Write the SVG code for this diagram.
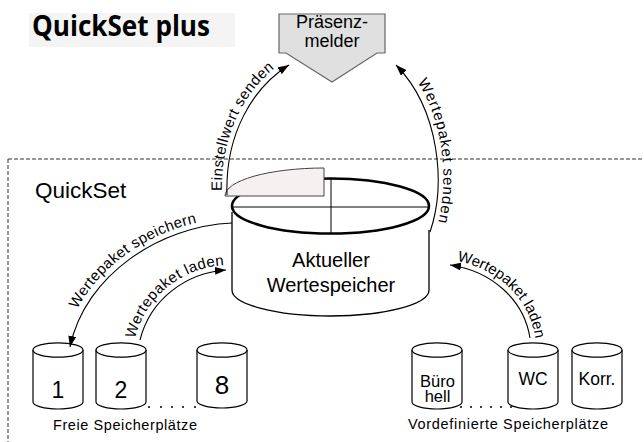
<svg xmlns="http://www.w3.org/2000/svg" width="644" height="442" viewBox="0 0 644 442">
<style>
.t{font-family:"Liberation Sans",Arial,sans-serif;fill:#000}
.ln{fill:none;stroke:#000;stroke-width:1.1}
.cyl{fill:#fff;stroke:#000;stroke-width:1.2}
.dash{fill:none;stroke:#333;stroke-width:1;stroke-dasharray:4 2}
.lbl{font-family:"Liberation Sans",Arial,sans-serif;font-size:15px;fill:#000}
</style>
<defs>
<marker id="ah" markerUnits="userSpaceOnUse" markerWidth="12" markerHeight="8" refX="11" refY="4" orient="auto">
<path d="M0,0 L11,4 L0,8 z" fill="#000"/>
</marker>
<path id="pA" d="M222,193 C220,133 248,84 284,62"/>
<path id="pB" d="M401,62 C446,106 451,185 435,234"/>
<path id="pC" d="M65,343 C80,271 157,221 231,218"/>
<path id="pD" d="M135,339 C145,296 183,267 226,265"/>
<path id="pE" d="M451,260 C495,266 529,297 535,337"/>
</defs>

<rect x="29" y="13" width="206" height="34" fill="#f4f4f4"/>
<text x="32" y="36" font-family="'Open Sans','DejaVu Sans',sans-serif" font-weight="bold" font-size="28" textLength="178" lengthAdjust="spacingAndGlyphs">QuickSet plus</text>

<g id="frame">
<path class="dash" d="M8,159 H644 M8,159 V442"/>
<text class="t" x="35" y="198" font-size="22.5">QuickSet</text>
</g>

<g id="praesenzmelder">
<path d="M279,14 H385 V53 H377 L332,82 L286,53 H279 Z" fill="#e0e0e0" stroke="#666" stroke-width="1.2"/>
<text class="t" x="332" y="28" font-size="18" text-anchor="middle">Präsenz-</text>
<text class="t" x="332" y="47" font-size="18" text-anchor="middle">melder</text>
</g>

<g id="aktueller-wertespeicher">
<path d="M232,207 V290 A98.5 26 0 0 0 429,290 V207" fill="#fff" stroke="none"/>
<path d="M232,212 V290 A98.5 26 0 0 0 429,290 V230" fill="none" stroke="#000" stroke-width="1.3"/>
<ellipse cx="330.5" cy="206" rx="98.5" ry="27.5" fill="#fff" stroke="#000" stroke-width="2.6"/>
<path d="M232,207 H429 M331,178 V233" stroke="#000" stroke-width="1" fill="none"/>
<path d="M225,196 A99 28 0 0 1 324,168 V196 Z" fill="#f5f1f1" stroke="#444" stroke-width="1"/>
<text class="t" x="331" y="267" font-size="20" text-anchor="middle">Aktueller</text>
<text class="t" x="331" y="292" font-size="20" text-anchor="middle">Wertespeicher</text>
</g>

<g id="speicher-1">
<path class="cyl" d="M33,350 V402 A25 7 0 0 0 83,402 V350"/>
<ellipse class="cyl" cx="58" cy="350" rx="25" ry="7.2"/>
<text class="t" x="58" y="398" font-size="23" text-anchor="middle">1</text>
</g>
<g id="speicher-2">
<path class="cyl" d="M96,350 V402 A25 7 0 0 0 146,402 V350"/>
<ellipse class="cyl" cx="121" cy="350" rx="25" ry="7.2"/>
<text class="t" x="121" y="398" font-size="23" text-anchor="middle">2</text>
</g>
<g id="speicher-8">
<path class="cyl" d="M197,350 V401 A25 7 0 0 0 247,401 V350"/>
<ellipse class="cyl" cx="222" cy="350" rx="25" ry="7.2"/>
<text class="t" x="222" y="394" font-size="26" text-anchor="middle">8</text>
</g>
<g id="dots-frei" fill="#000">
<circle cx="149" cy="407" r="1"/><circle cx="161" cy="407" r="1"/><circle cx="172" cy="407" r="1"/><circle cx="183" cy="407" r="1"/><circle cx="195" cy="407" r="1"/>
</g>
<text class="t" x="125" y="430" font-size="14.5" text-anchor="middle" textLength="144">Freie Speicherplätze</text>

<g id="speicher-buero">
<path class="cyl" d="M412,350 V402 A25 7 0 0 0 462,402 V350"/>
<ellipse class="cyl" cx="437" cy="350" rx="25" ry="7.2"/>
<text class="t" x="437.5" y="387" font-size="16.5" text-anchor="middle">Büro</text>
<text class="t" x="437.5" y="402" font-size="16.5" text-anchor="middle">hell</text>
</g>
<g id="speicher-wc">
<path class="cyl" d="M508,350 V402 A25 7 0 0 0 558,402 V350"/>
<ellipse class="cyl" cx="533" cy="350" rx="25" ry="7.2"/>
<text class="t" x="533" y="385" font-size="17.5" text-anchor="middle">WC</text>
</g>
<g id="speicher-korr">
<path class="cyl" d="M572,350 V402 A25 7 0 0 0 622,402 V350"/>
<ellipse class="cyl" cx="597" cy="350" rx="25" ry="7.2"/>
<text class="t" x="597" y="385" font-size="17.5" text-anchor="middle">Korr.</text>
</g>
<g id="dots-vordef" fill="#000">
<circle cx="461" cy="407" r="1"/><circle cx="471" cy="407" r="1"/><circle cx="481" cy="407" r="1"/><circle cx="491" cy="407" r="1"/><circle cx="501" cy="407" r="1"/><circle cx="511" cy="407" r="1"/>
</g>
<text class="t" x="508" y="429" font-size="14.5" text-anchor="middle" textLength="200">Vordefinierte Speicherplätze</text>

<g id="connectors">
<path class="ln" d="M227,195 C225,135 252,88 289,65" marker-end="url(#ah)"/>
<path class="ln" d="M430,232 C446,185 440,110 396,65" marker-end="url(#ah)"/>
<path class="ln" d="M232,223 C160,226 85,275 70,347" marker-end="url(#ah)"/>
<path class="ln" d="M140,340 C150,300 185,273 226,270" marker-end="url(#ah)"/>
<path class="ln" d="M530,338 C524,300 492,271 450,265" marker-end="url(#ah)"/>
<text class="lbl"><textPath href="#pA" startOffset="2" textLength="138" lengthAdjust="spacing">Einstellwert senden</textPath></text>
<text class="lbl"><textPath href="#pB" startOffset="26" textLength="145" lengthAdjust="spacing">Wertepaket senden</textPath></text>
<text class="lbl"><textPath href="#pC" startOffset="36" textLength="152" lengthAdjust="spacing">Wertepaket speichern</textPath></text>
<text class="lbl"><textPath href="#pD" startOffset="0" textLength="124" lengthAdjust="spacing">Wertepaket laden</textPath></text>
<text class="lbl"><textPath href="#pE" startOffset="6" textLength="118" lengthAdjust="spacing">Wertepaket laden</textPath></text>
</g>
</svg>
